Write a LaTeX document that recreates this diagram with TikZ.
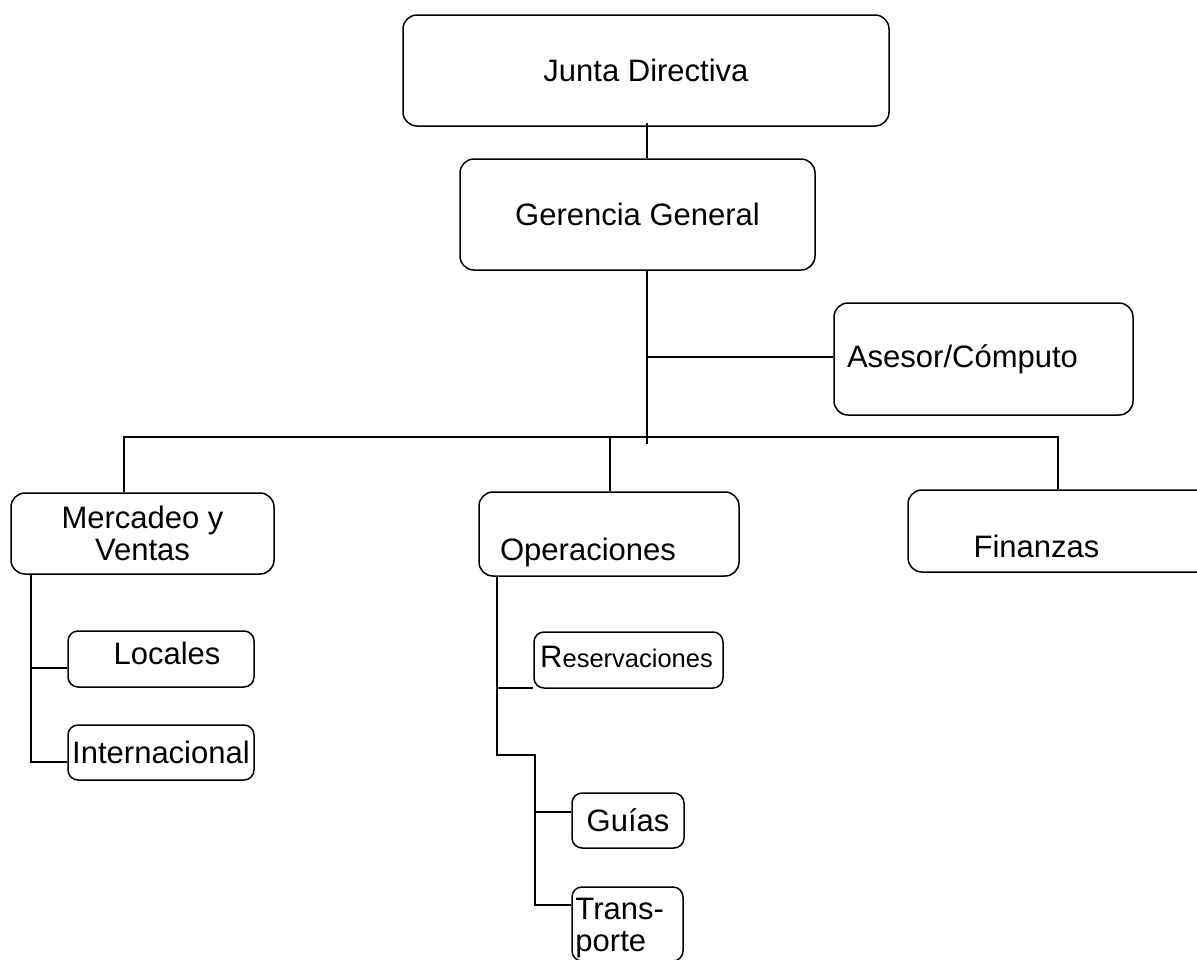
\documentclass[tikz,border=0pt]{standalone}
\usepackage{fontspec}
\setmainfont{Liberation Sans}
\begin{document}
\tikzset{
  box/.style={draw, line width=1.5pt, rounded corners=14pt, inner sep=0pt},
  sbox/.style={box, rounded corners=10pt},
  lbl/.style={inner sep=0pt},
  conn/.style={line width=1.5pt}
}
\begin{tikzpicture}[x=1pt,y=-1pt, every node/.style={font=\fontsize{31}{32}\selectfont}]
\useasboundingbox (0,0) rectangle (1197,959);
% boxes
\node[box, minimum width=486pt, minimum height=111pt] (jd) at (646,70.5) {Junta Directiva};
\node[box, minimum width=355pt, minimum height=111pt] (gg) at (637.5,214.5) {Gerencia General};
\node[box, minimum width=299pt, minimum height=112pt,
      label={[lbl,xshift=-21pt]center:Asesor/Cómputo}] (as) at (983.5,359) {};
\node[box, minimum width=263pt, minimum height=81pt, align=center] (mv) at (142.5,533.5) {Mercadeo y\\Ventas};
\node[box, minimum width=260pt, minimum height=84pt,
      label={[lbl,xshift=-21pt,yshift=-18pt]center:Operaciones}] (op) at (609,534) {};
\node[box, minimum width=307pt, minimum height=82pt,
      label={[lbl,xshift=-25pt,yshift=-15pt]center:Finanzas}] (fi) at (1061.5,531) {};
\node[sbox, minimum width=186pt, minimum height=56pt,
      label={[lbl,xshift=6pt,yshift=6pt]center:Locales}] (lo) at (161,659) {};
\node[sbox, minimum width=186pt, minimum height=55pt] (in) at (161,752.5) {Internacional};
\node[sbox, minimum width=189pt, minimum height=56pt,
      label={[lbl,xshift=-2pt,yshift=3pt]center:{\fontsize{31}{32}\selectfont R}{\fontsize{25.5}{32}\selectfont eservaciones}}] (rs) at (628.5,660) {};
\node[sbox, minimum width=112pt, minimum height=55pt] (gu) at (628,820.5) {Guías};
\node[sbox, minimum width=111pt, minimum height=74pt,
      label={[lbl,align=left,anchor=west,xshift=4pt,yshift=-4pt]west:Trans-\\porte}] (tr) at (627.5,924) {};
% connectors
\coordinate (jdg) at (647,123);
\draw[conn] (jdg) -- (jdg |- gg.north);
\coordinate (trunk) at (647,444);
\draw[conn] (trunk |- gg.south) -- (trunk);
\coordinate (asj) at (647,357);
\draw[conn] (asj) -- (asj -| as.west);
\coordinate (busL) at (124,437);
\coordinate (busR) at (1058,437);
\coordinate (busO) at (610,437);
\draw[conn] (busL |- mv.north) -- (busL) -- (busR) -- (busR |- fi.north);
\draw[conn] (busO) -- (busO |- op.north);
\coordinate (mvb) at (31,762);
\draw[conn] (mvb |- mv.south) -- (mvb) -- (mvb -| in.west);
\coordinate (loj) at (31,668);
\draw[conn] (loj) -- (loj -| lo.west);
\coordinate (opb) at (497,755);
\coordinate (opc) at (535,755);
\coordinate (ope) at (535,905);
\draw[conn] (opb |- op.south) -- (opb) -- (opc) -- (ope) -- (ope -| tr.west);
\coordinate (rsj) at (497,688);
\draw[conn] (rsj) -- (rsj -| rs.west);
\coordinate (guj) at (535,812);
\draw[conn] (guj) -- (guj -| gu.west);
\end{tikzpicture}
\end{document}
